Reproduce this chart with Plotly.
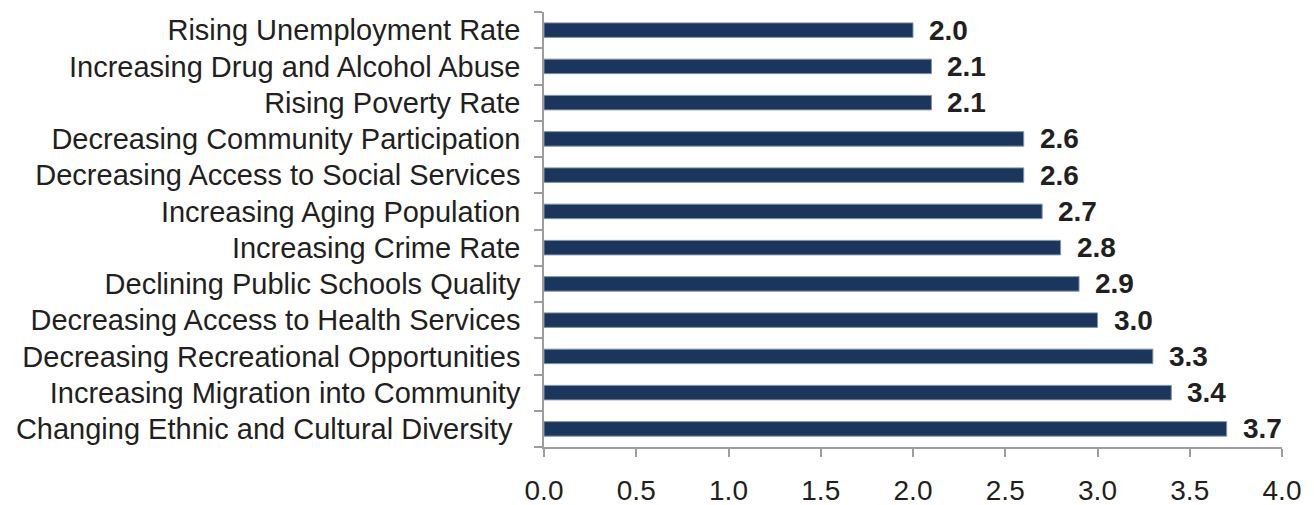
import plotly.graph_objects as go

# Community trends, average rating (top to bottom as listed)
categories = [
    "Rising Unemployment Rate",
    "Increasing Drug and Alcohol Abuse",
    "Rising Poverty Rate",
    "Decreasing Community Participation",
    "Decreasing Access to Social Services",
    "Increasing Aging Population",
    "Increasing Crime Rate",
    "Declining Public Schools Quality",
    "Decreasing Access to Health Services",
    "Decreasing Recreational Opportunities",
    "Increasing Migration into Community",
    "Changing Ethnic and Cultural Diversity",
]
values = [2.0, 2.1, 2.1, 2.6, 2.6, 2.7, 2.8, 2.9, 3.0, 3.3, 3.4, 3.7]
tick_labels = categories[:-1] + [categories[-1] + "\u00a0"]
x_ticks = [0.0, 0.5, 1.0, 1.5, 2.0, 2.5, 3.0, 3.5, 4.0]

FONT = "Liberation Sans, Arial, sans-serif"
TEXT = "#231f20"
AXIS = "#9d9d9d"

fig = go.Figure(
    go.Bar(
        x=values,
        y=categories,
        orientation="h",
        marker=dict(color="#1b365d", line=dict(color="#7f93ab", width=1)),
        hoverinfo="x+y",
    )
)

for cat, val in zip(categories, values):
    fig.add_annotation(
        x=val, y=cat, text=f"<b>{val:.1f}</b>",
        xanchor="left", yanchor="middle", xshift=14, showarrow=False,
        font=dict(family=FONT, size=28, color=TEXT),
    )

fig.update_layout(
    width=1314, height=505,
    margin=dict(l=544, r=32, t=12, b=58),
    paper_bgcolor="white", plot_bgcolor="white",
    bargap=0.6, showlegend=False,
    font=dict(family=FONT, color=TEXT),
)

fig.update_xaxes(
    range=[0, 4], tickvals=x_ticks, ticktext=[f"{t:.1f}" for t in x_ticks],
    showgrid=False, zeroline=False,
    showline=True, linecolor=AXIS, linewidth=1.5,
    ticks="outside", ticklen=8, tickwidth=1.5, tickcolor=AXIS,
    tickfont=dict(family=FONT, size=28, color=TEXT),
    ticklabelstandoff=10, automargin=False,
)
fig.update_yaxes(
    categoryorder="array", categoryarray=categories, autorange="reversed",
    tickvals=categories, ticktext=tick_labels,
    showgrid=False, zeroline=False,
    showline=True, linecolor=AXIS, linewidth=1.5,
    ticks="outside", ticklen=8, tickwidth=1.5, tickcolor=AXIS,
    tickson="boundaries",
    tickfont=dict(family=FONT, size=29, color=TEXT),
    ticklabelstandoff=16, automargin=False,
)

fig.write_html("out.html")
